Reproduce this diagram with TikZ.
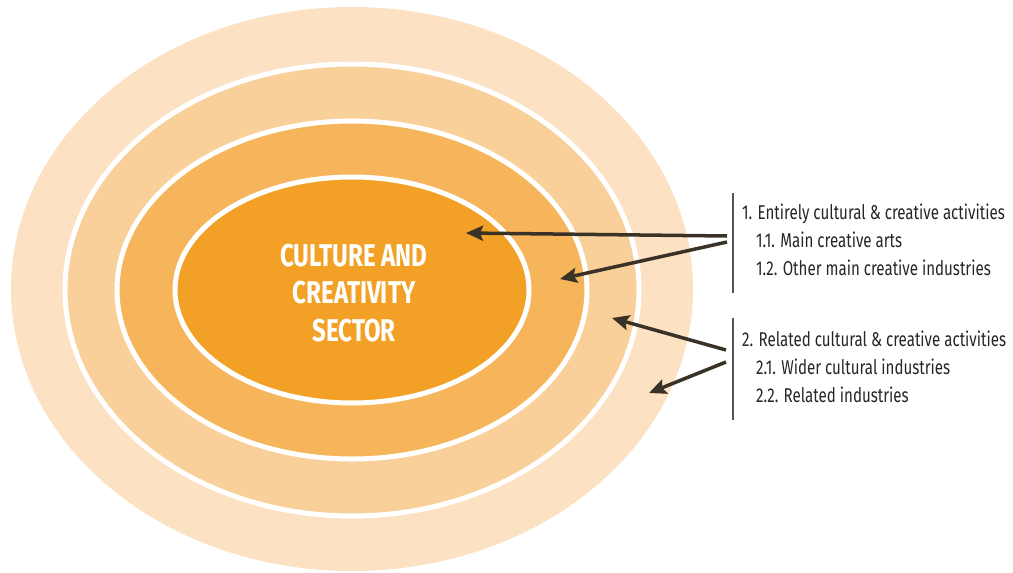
\documentclass[tikz,border=0pt]{standalone}
\usepackage{fontspec}
\usetikzlibrary{arrows.meta}
\newfontfamily\labfont{Fira Sans}[FakeStretch=0.755]
\newfontfamily\corefont{Fira Sans}[FakeStretch=0.766]
\definecolor{ringA}{HTML}{FCE1C3}
\definecolor{ringB}{HTML}{FAD09A}
\definecolor{ringC}{HTML}{F6B55A}
\definecolor{ringD}{HTML}{F2A126}
\definecolor{arrowc}{HTML}{3A3226}
\definecolor{barc}{HTML}{555555}
\tikzset{
  ring/.style={draw=white, line width=5pt},
  pointer/.style={draw=arrowc, line width=3.5pt, -{Stealth[length=17pt,width=15pt,inset=3pt]}},
  bar/.style={draw=barc, line width=1.2pt},
  mainline/.style={anchor=base west, inner sep=0pt, font=\labfont\fontsize{20}{24}\selectfont, text=black!85},
  subline/.style={mainline},
}
\begin{document}
\begin{tikzpicture}[x=1pt,y=-1pt]
\useasboundingbox (0,0) rectangle (1013,573);
% rings
\fill[ringA] (352,289) ellipse [x radius=341pt, y radius=282pt];
\path[ring, fill=ringB] (352,290) ellipse [x radius=287pt, y radius=226pt];
\path[ring, fill=ringC] (352,290) ellipse [x radius=235pt, y radius=169pt];
\path[ring, fill=ringD] (352,290) ellipse [x radius=177pt, y radius=113pt];
% core label
\node[inner sep=0pt, align=center, text=white, font=\corefont\bfseries\fontsize{31.5}{37.5}\selectfont] (core) at (354,293) {CULTURE AND\\CREATIVITY\\SECTOR};
% bars
\coordinate (b1t) at (733,193);
\coordinate (b1b) at (733,293);
\coordinate (b2t) at (733,318);
\coordinate (b2b) at (733,420);
\draw[bar] (b1t) -- (b1b);
\draw[bar] (b2t) -- (b2b);
% labels
\node[mainline] (l1) at (742,219) {1. Entirely cultural \& creative activities};
\node[subline] (l11) at (756,247) {1.1. Main creative arts};
\node[subline] (l12) at (756,275) {1.2. Other main creative industries};
\node[mainline] (l2) at (742,346) {2. Related cultural \& creative activities};
\node[subline] (l21) at (756,374) {2.1. Wider cultural industries};
\node[subline] (l22) at (756,402) {2.2. Related industries};
% arrows
\coordinate (s1) at (727,236);
\coordinate (t1) at (466,233);
\coordinate (s2) at (727,242);
\coordinate (t2) at (560,279);
\coordinate (s3) at (726,350);
\coordinate (t3) at (612,318);
\coordinate (s4) at (726,362);
\coordinate (t4) at (649,393);
\draw[pointer] (s1) -- (t1);
\draw[pointer] (s2) -- (t2);
\draw[pointer] (s3) -- (t3);
\draw[pointer] (s4) -- (t4);
\end{tikzpicture}
\end{document}
